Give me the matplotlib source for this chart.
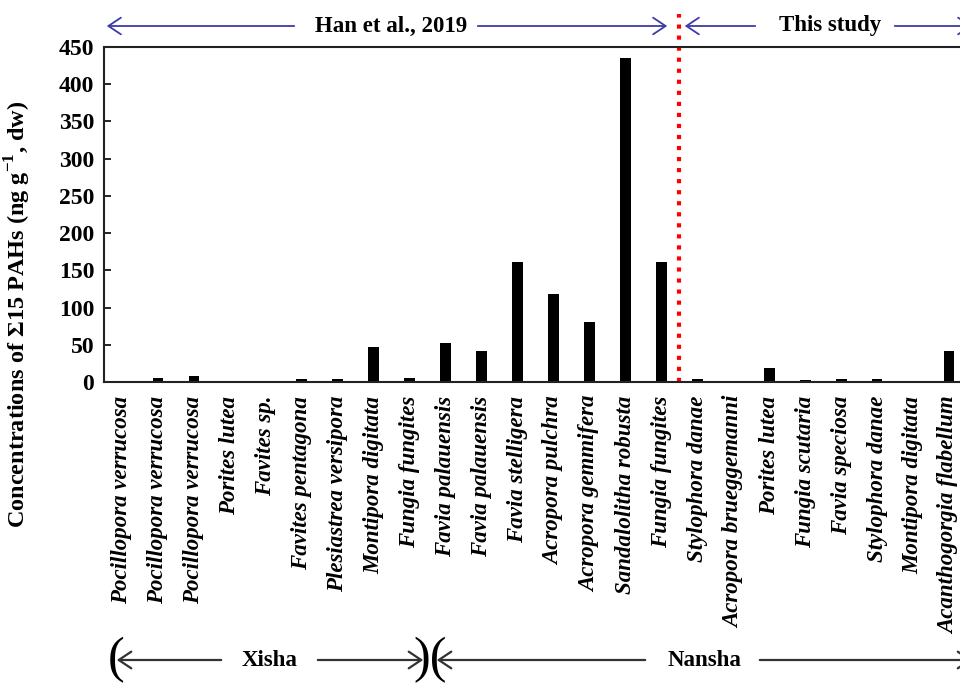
import matplotlib
matplotlib.use('Agg')
import matplotlib.pyplot as plt
import numpy as np

plt.rcParams['font.family'] = ['Liberation Serif', 'DejaVu Serif']
plt.rcParams['mathtext.fontset'] = 'custom'
plt.rcParams['mathtext.rm'] = 'Liberation Serif:bold'
plt.rcParams['mathtext.bf'] = 'Liberation Serif:bold'

# species (x-axis labels)
species = ['Pocillopora verrucosa', 'Pocillopora verrucosa', 'Pocillopora verrucosa',
           'Porites lutea', 'Favites sp.', 'Favites pentagona', 'Plesiastrea versipora',
           'Montipora digitata', 'Fungia fungites', 'Favia palauensis', 'Favia palauensis',
           'Favia stelligera', 'Acropora pulchra', 'Acropora gemmifera',
           'Sandalolitha robusta', 'Fungia fungites',
           'Stylophora danae', 'Acropora brueggemanni', 'Porites lutea', 'Fungia scutaria',
           'Favia speciosa', 'Stylophora danae', 'Montipora digitata', 'Acanthogorgia flabellum']

# sum of 15 PAHs, ng/g dw
pahs = [0.5, 6, 7.5, 0, 0, 4, 4, 47, 6, 52, 41, 161, 118, 81, 435, 161,
        4, 0, 19, 2.5, 4, 4, 0, 42]

n_han = 16  # first 16 values from Han et al., 2019

fig = plt.figure(figsize=(9.6, 6.91), dpi=100)
ax = fig.add_axes([104/960, 309/691, 863/960, 335/691])

x = np.arange(len(species))
ax.bar(x, pahs, width=0.3, color='black')
ax.set_xlim(-0.5, len(species) - 0.5)
ax.set_ylim(0, 450)
ax.set_yticks(np.arange(0, 451, 50))
ax.tick_params(axis='y', direction='in', length=5, width=1.2, labelsize=17, pad=7)
for lab in ax.get_yticklabels():
    lab.set_fontweight('bold')
ax.set_xticks(x)
ax.set_xticklabels(species, rotation=90, fontsize=16.5, fontweight='bold', style='italic',
                   va='top', ha='center')
ax.tick_params(axis='x', length=0, pad=10)
for s in ax.spines.values():
    s.set_linewidth(1.5)
    s.set_color('#222222')

# separator between literature data and this study
ax.axvline(n_han - 0.5, ymin=0, ymax=1.10, color='red', ls=':', lw=3, clip_on=False)

fig.text(18/960, 1 - 314/691, r'Concentrations of $\Sigma$15 PAHs (ng g$^{-1}$, dw)',
         rotation=90, ha='center', va='center', fontsize=17.5, fontweight='bold')

# top arrows
blue = '#3c3ca8'
yt = 1 - 26/691
def arr(x0, x1, y, col, lw):
    fig.add_artist(matplotlib.patches.FancyArrowPatch(
        (x0/960, y), (x1/960, y), transform=fig.transFigure,
        arrowstyle='->,head_length=6,head_width=4', color=col, lw=lw, mutation_scale=1.5))

arr(297, 104, yt, blue, 1.3)
arr(475, 670, yt, blue, 1.3)
arr(758, 682, yt, blue, 1.3)
arr(892, 975, yt, blue, 1.3)
fig.text(391/960, yt, 'Han et al., 2019', ha='center', va='center', fontsize=16.5, fontweight='bold')
fig.text(830/960, yt, 'This study', ha='center', va='center', fontsize=16.5, fontweight='bold')

# bottom region arrows
yb = 1 - 660/691
dark = '#333333'
arr(224, 114, yb, dark, 1.6)
arr(315, 426, yb, dark, 1.6)
arr(648, 434, yb, dark, 1.6)
arr(757, 975, yb, dark, 1.6)
fig.text(270/960, yb, 'Xisha', ha='center', va='center', fontsize=16.5, fontweight='bold')
fig.text(704/960, yb, 'Nansha', ha='center', va='center', fontsize=16.5, fontweight='bold')
fig.text(116/960, yb, '(', ha='center', va='center', fontsize=36, color='black')
fig.text(430/960, yb, ')(', ha='center', va='center', fontsize=36, color='black')

fig.savefig('out.png', dpi=100)
